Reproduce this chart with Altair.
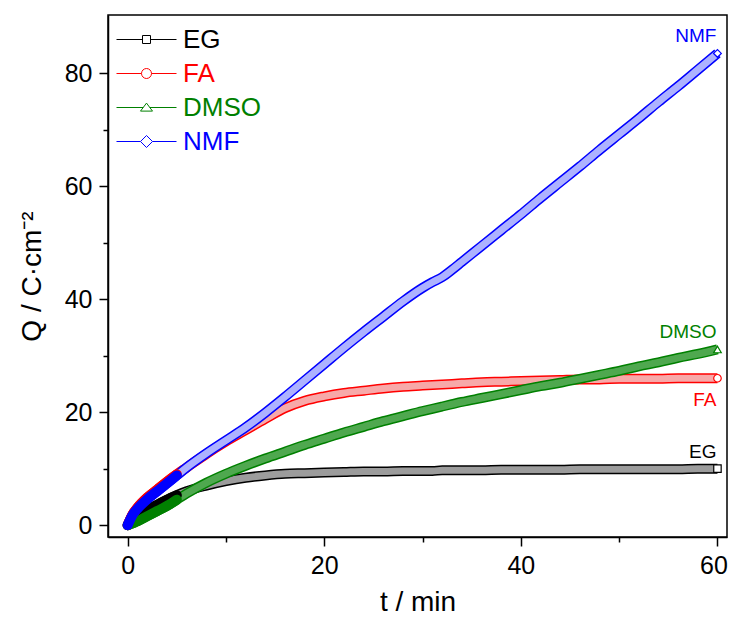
import altair as alt
import pandas as pd

series = ["EG", "FA", "DMSO", "NMF"]
colors = ["#000000", "#ff0000", "#008000", "#0000ff"]
tints = ["#9c9c9c", "#f7a9a9", "#4fa84f", "#adb2ff"]
marker_shapes = ["square", "circle", "triangle-up", "diamond"]
legend_paths = [
    "M-1.5,0H-0.2M0.2,0H1.5M-0.2,-0.2H0.2V0.2H-0.2Z",
    "M-1.5,0H-0.25M0.25,0H1.5M0.25,0A0.25,0.25 0 1,1 -0.25,0A0.25,0.25 0 1,1 0.25,0Z",
    "M-1.5,0H-0.165M0.165,0H1.5M0,-0.22L0.3,0.18H-0.3Z",
    "M-1.5,0H-0.3M0.3,0H1.5M0,-0.3L0.3,0L0,0.3L-0.3,0Z",
]

t_min = [0, 0.5, 1, 2, 3, 4, 5, 6, 8, 10, 12, 14, 16, 18, 20, 22, 24, 26, 28, 30,
         31, 32, 33, 34, 36, 38, 40, 42, 44, 46, 48, 50, 52, 54, 56, 58, 60]
q_EG = [0, 0.6, 1.3, 2.6, 3.6, 4.5, 5.3, 6.0, 7.0, 7.8, 8.4, 8.8, 9.1, 9.2, 9.3, 9.4,
        9.5, 9.5, 9.6, 9.6, 9.6, 9.7, 9.7, 9.7, 9.7, 9.8, 9.8, 9.8, 9.8, 9.9, 9.9,
        9.9, 9.9, 9.9, 9.9, 10.0, 10.0]
q_FA = [0, 1.9, 3.1, 4.9, 6.3, 7.7, 9.0, 10.2, 12.6, 14.8, 16.8, 18.8, 20.7, 22.0,
        22.8, 23.4, 23.8, 24.2, 24.5, 24.7, 24.8, 24.9, 25.0, 25.1, 25.3, 25.4, 25.5,
        25.6, 25.7, 25.8, 25.8, 25.9, 25.9, 25.9, 26.0, 26.0, 26.0]
q_DMSO = [0, 0.3, 0.7, 1.6, 2.5, 3.4, 4.5, 5.6, 7.5, 9.1, 10.5, 11.8, 13.0, 14.2,
          15.3, 16.4, 17.4, 18.4, 19.3, 20.2, 20.6, 21.0, 21.4, 21.8, 22.5, 23.2,
          23.9, 24.6, 25.2, 25.9, 26.6, 27.3, 28.1, 28.8, 29.6, 30.3, 31.1]
q_NMF = [0, 1.8, 2.9, 4.6, 6.0, 7.4, 8.8, 10.2, 12.7, 15.0, 17.3, 19.9, 22.7, 25.6,
         28.5, 31.4, 34.2, 36.9, 39.6, 42.0, 43.0, 43.9, 45.2, 46.6, 49.4, 52.2,
         55.0, 57.9, 60.7, 63.5, 66.4, 69.2, 72.0, 74.9, 77.7, 80.6, 83.5]

values = {"EG": q_EG, "FA": q_FA, "DMSO": q_DMSO, "NMF": q_NMF}
rows = []
for s in series:
    for t, q in zip(t_min, values[s]):
        rows.append({"series": s, "t": t, "Q": q})
df = pd.DataFrame(rows)

FONT = "Arial, Liberation Sans"

x_scale = alt.Scale(domain=[-2.0, 60.97], nice=False, zero=False)
y_scale = alt.Scale(domain=[-2.1, 90.3], nice=False, zero=False)
color_scale = alt.Scale(domain=series, range=colors)

major20 = "datum.value % 20 === 0"
x_axis = alt.Axis(
    values=[0, 10, 20, 30, 40, 50, 60],
    labelExpr=f"{major20} ? datum.label : ''",
    tickSize={"condition": {"test": major20, "value": 9}, "value": 5},
    labelOffset={"condition": {"test": "datum.value === 60", "value": -4}, "value": 0},
    title="t / min", titlePadding=10, labelPadding=7, grid=False,
)
y_axis = alt.Axis(
    values=[0, 10, 20, 30, 40, 50, 60, 70, 80],
    labelExpr=f"{major20} ? datum.label : ''",
    tickSize={"condition": {"test": major20, "value": 9}, "value": 5},
    title="Q / C·cm⁻²", titlePadding=18, labelPadding=7, grid=False,
)

base = alt.Chart(df).encode(
    x=alt.X("t:Q", scale=x_scale, axis=x_axis),
    y=alt.Y("Q:Q", scale=y_scale, axis=y_axis),
)

layers = []
for s, c, tint in zip(series, colors, tints):
    sel = base.transform_filter(alt.datum.series == s)
    layers.append(sel.mark_line(strokeWidth=10, color=c, interpolate="monotone", strokeCap="butt"))
    layers.append(sel.mark_line(strokeWidth=7, color=tint, interpolate="monotone", strokeCap="butt"))

for s, c in zip(series, colors):
    early = base.transform_filter((alt.datum.series == s) & (alt.datum.t <= 5))
    layers.append(early.mark_line(strokeWidth=10, color=c, interpolate="monotone", strokeCap="round"))

ends = base.transform_filter(alt.datum.t == 60)
layers.append(
    ends.mark_point(filled=True, fill="white", strokeWidth=1.2, opacity=1).encode(
        shape=alt.Shape("series:N", scale=alt.Scale(domain=series, range=marker_shapes), legend=None),
        stroke=alt.Stroke("series:N", scale=color_scale, legend=None),
        size=alt.Size("series:N", scale=alt.Scale(domain=series, range=[55, 60, 55, 90]), legend=None),
    )
)
layers.append(
    ends.transform_filter(alt.datum.series != "FA").mark_text(
        align="right", baseline="alphabetic", dx=-1, dy=-11, fontSize=19, font=FONT
    ).encode(text="series:N", color=alt.Color("series:N", scale=color_scale, legend=None))
)
layers.append(
    ends.transform_filter(alt.datum.series == "FA").mark_text(
        align="right", baseline="alphabetic", dx=-1, dy=28, fontSize=19, font=FONT
    ).encode(text="series:N", color=alt.Color("series:N", scale=color_scale, legend=None))
)

color_expr = " : ".join(
    f"datum.value === '{s}' ? '{c}'" for s, c in zip(series, colors)
) + " : 'black'"

leg = alt.Legend(
    title=None, orient="none", legendX=18, legendY=4, symbolSize=1600,
    symbolStrokeWidth=1, symbolOpacity=1, labelFontSize=26, labelFont=FONT,
    labelOffset=16, rowPadding=0, padding=0,
    labelColor={"expr": color_expr},
    symbolStrokeColor={"expr": color_expr},
)
layers.append(
    base.transform_filter("false").mark_point(filled=False, strokeWidth=1, opacity=1).encode(
        color=alt.Color("series:N", scale=color_scale, legend=leg),
        shape=alt.Shape("series:N", scale=alt.Scale(domain=series, range=legend_paths), legend=leg),
    )
)

chart = (
    alt.layer(*layers)
    .resolve_scale(shape="independent")
    .properties(
        width=619, height=522,
        padding={"left": 100, "top": 7, "right": 1, "bottom": 80},
        autosize=alt.AutoSizeParams(type="none"),
    )
    .configure_view(stroke="black", strokeWidth=1.5)
    .configure_axis(
        labelFont=FONT, labelFontSize=25, labelColor="black",
        titleFont=FONT, titleFontSize=28, titleColor="black", titleFontWeight="normal",
        domainColor="black", domainWidth=1.5, tickColor="black", tickWidth=1.5,
    )
)

chart.save("out.html", embed_options={"renderer": "svg", "actions": False})
